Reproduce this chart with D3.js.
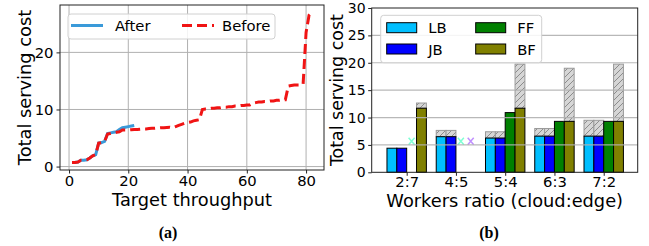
<!DOCTYPE html>
<html>
<head>
<meta charset="utf-8">
<script src="https://cdn.jsdelivr.net/npm/d3@7"></script>
<style>
  body { margin: 0; background: #fff; }
  text { font-family: "DejaVu Sans", sans-serif; fill: #000; }
</style>
</head>
<body>
<svg width="649" height="246"></svg>
<script>
const svg = d3.select("svg");

// (a) cost vs target throughput
const afterX = d3.range(1, 23);
const afterY = [0.7, 0.7, 0.8, 1.1, 1.1, 1.2, 1.5, 1.9, 2.1, 4.1, 4.2, 4.4,
  5.8, 5.9, 6.0, 6.1, 6.5, 6.8, 6.9, 7.0, 7.1, 7.2];
const beforeX = d3.range(1, 83);
const beforeY = [0.7, 0.7, 0.8, 1.1, 1.1, 1.2, 1.5, 1.9, 2.1, 4.1, 4.2, 4.4,
  5.7, 5.8, 5.9, 6.0, 6.1, 6.4, 6.4, 6.4, 6.45, 6.5, 6.5, 6.55, 6.6, 6.6,
  6.65, 6.7, 6.7, 6.75, 6.8, 6.8, 6.85, 6.9, 6.8, 7.0, 7.2, 7.4, 7.6, 7.7,
  7.8, 8.0, 8.1, 8.2, 10.0, 10.1, 10.1, 10.2, 10.2, 10.3, 10.3, 10.4, 10.4,
  10.5, 10.5, 10.6, 10.6, 10.7, 10.7, 10.8, 10.8, 11.1, 11.2, 11.3, 11.3,
  11.4, 11.4, 11.5, 11.5, 11.6, 11.6, 11.7, 11.7, 14.1, 14.2, 14.3, 14.3,
  14.3, 14.4, 23.5, 26.5, 27.0];
const xTicksA = [0, 20, 40, 60, 80];
const yTicksA = [0, 10, 20];

// (b) cost per workers ratio
const ratios = ["2:7", "4:5", "5:4", "6:3", "7:2"];
const lbCost = [4.4, 6.5, 6.25, 6.6, 6.6];
const lbTotal = [null, 7.65, 7.4, 8.0, 9.5];
const jbCost = [4.4, 6.5, 6.25, 6.6, 6.6];
const jbTotal = [null, 7.65, 7.4, 8.0, 9.5];
const ffCost = [null, null, 10.9, 9.3, 9.3];
const ffTotal = [null, null, null, null, null];
const bfCost = [11.7, null, 11.7, 9.3, 9.3];
const bfTotal = [12.65, null, 19.75, 19.0, 19.75];
const missY = 5.65;
const yTicksB = [0, 5, 10, 15, 20, 25, 30];

const defs = svg.append("defs");
const pat = defs.append("pattern")
  .attr("id", "hatch")
  .attr("patternUnits", "userSpaceOnUse")
  .attr("width", 6).attr("height", 6);
pat.append("rect").attr("width", 6).attr("height", 6).attr("fill", "#d6d6d6");
pat.append("path").attr("d", "M-1,7 L7,-1 M-4,4 L4,-4 M2,10 L10,2")
  .attr("stroke", "#8c8c8c").attr("stroke-width", 1);

const tickFont = 14.8;
const labelFont = 17.8;

function styleTicks(g, size) {
  g.select(".domain").remove();
  g.selectAll("text").style("font-size", (size || tickFont) + "px").attr("font-family", "DejaVu Sans");
  g.selectAll("line").attr("stroke", "#222");
}

// ---------- chart (a) ----------
const A = { l: 60, r: 324, t: 5, b: 170 };
const xA = d3.scaleLinear().domain([-3.05, 86.05]).range([A.l, A.r]);
const yA = d3.scaleLinear().domain([-0.6, 28.3]).range([A.b, A.t]);

const gA = svg.append("g");
gA.append("g").selectAll("line").data(xTicksA).enter().append("line")
  .attr("x1", d => xA(d)).attr("x2", d => xA(d))
  .attr("y1", A.t).attr("y2", A.b)
  .attr("stroke", "#b0b0b0").attr("stroke-width", 1);
gA.append("g").selectAll("line").data(yTicksA).enter().append("line")
  .attr("x1", A.l).attr("x2", A.r)
  .attr("y1", d => yA(d)).attr("y2", d => yA(d))
  .attr("stroke", "#b0b0b0").attr("stroke-width", 1);

const lineA = d3.line().x(d => xA(d[0])).y(d => yA(d[1]));
gA.append("path")
  .attr("d", lineA(afterX.map((x, i) => [x, afterY[i]])))
  .attr("fill", "none").attr("stroke", "#3a9ad9").attr("stroke-width", 3);
gA.append("path")
  .attr("d", lineA(beforeX.map((x, i) => [x, beforeY[i]])))
  .attr("fill", "none").attr("stroke", "#f01414").attr("stroke-width", 3)
  .attr("stroke-dasharray", "10,5");

gA.append("g").attr("transform", `translate(0,${A.b})`)
  .call(d3.axisBottom(xA).tickValues(xTicksA).tickSize(3.5).tickPadding(1.5))
  .call(styleTicks);
gA.append("g").attr("transform", `translate(${A.l},0)`)
  .call(d3.axisLeft(yA).tickValues(yTicksA).tickSize(3.5).tickPadding(3))
  .call(styleTicks);
gA.append("rect").attr("x", A.l).attr("y", A.t)
  .attr("width", A.r - A.l).attr("height", A.b - A.t)
  .attr("fill", "none").attr("stroke", "#222").attr("stroke-width", 1);

// legend (a)
const legA = gA.append("g");
legA.append("rect").attr("x", 68).attr("y", 14).attr("width", 207).attr("height", 25)
  .attr("rx", 3).attr("fill", "#fff").attr("fill-opacity", 0.85)
  .attr("stroke", "#d0d0d0");
legA.append("line").attr("x1", 71).attr("x2", 103).attr("y1", 25.5).attr("y2", 25.5)
  .attr("stroke", "#3a9ad9").attr("stroke-width", 3);
legA.append("text").attr("x", 115).attr("y", 31).style("font-size", tickFont + "px").text("After");
legA.append("line").attr("x1", 182).attr("x2", 214).attr("y1", 25.5).attr("y2", 25.5)
  .attr("stroke", "#f01414").attr("stroke-width", 3).attr("stroke-dasharray", "10,5");
legA.append("text").attr("x", 222).attr("y", 31).style("font-size", tickFont + "px").text("Before");

gA.append("text").attr("text-anchor", "middle")
  .attr("transform", `translate(31,${(A.t + A.b) / 2}) rotate(-90)`)
  .style("font-size", labelFont + "px").text("Total serving cost");
gA.append("text").attr("text-anchor", "middle")
  .attr("x", (A.l + A.r) / 2).attr("y", 205.5)
  .style("font-size", labelFont + "px").text("Target throughput");
gA.append("text").attr("text-anchor", "middle").attr("x", 168).attr("y", 238)
  .style("font-family", "Liberation Serif, serif").style("font-weight", "bold")
  .style("font-size", "16px").text("(a)");

// ---------- chart (b) ----------
const B = { l: 371.7, r: 637.7, t: 8, b: 172.3 };
const xB = d3.scaleLinear().domain([-0.71, 4.69]).range([B.l, B.r]);
const yB = d3.scaleLinear().domain([0, 30]).range([B.b, B.t]);
const barW = 0.2;

const series = [
  { name: "LB", cost: lbCost, total: lbTotal, color: "#00bfff", off: -0.3 },
  { name: "JB", cost: jbCost, total: jbTotal, color: "#0000ff", off: -0.1 },
  { name: "FF", cost: ffCost, total: ffTotal, color: "#008000", off: 0.1 },
  { name: "BF", cost: bfCost, total: bfTotal, color: "#808000", off: 0.3 }
];

const gB = svg.append("g");
const bw = xB(barW) - xB(0);

series.forEach(s => {
  const idx = d3.range(ratios.length);
  gB.append("g").selectAll("rect")
    .data(idx.filter(i => s.total[i] != null)).enter().append("rect")
    .attr("x", i => xB(i + s.off) - bw / 2).attr("width", bw)
    .attr("y", i => yB(s.total[i])).attr("height", i => yB(s.cost[i]) - yB(s.total[i]))
    .attr("fill", "url(#hatch)").attr("stroke", "#9a9a9a").attr("stroke-width", 1);
  gB.append("g").selectAll("rect")
    .data(idx.filter(i => s.cost[i] != null)).enter().append("rect")
    .attr("x", i => xB(i + s.off) - bw / 2).attr("width", bw)
    .attr("y", i => yB(s.cost[i])).attr("height", i => yB(0) - yB(s.cost[i]))
    .attr("fill", s.color).attr("stroke", "#000").attr("stroke-width", 1);
});

// missing runs
const missing = [
  { i: 0, off: 0.1, color: "#7fffd4" },
  { i: 1, off: 0.1, color: "#7fffd4" },
  { i: 1, off: 0.3, color: "#c090ff" }
];
gB.append("g").selectAll("path").data(missing).enter().append("path")
  .attr("d", d => {
    const cx = xB(d.i + d.off), cy = yB(missY);
    return `M${cx - 3},${cy - 3.5}L${cx + 3},${cy + 3.5}M${cx - 3},${cy + 3.5}L${cx + 3},${cy - 3.5}`;
  })
  .attr("stroke", d => d.color).attr("stroke-width", 1.5).attr("fill", "none");

gB.append("g").selectAll("line").data(yTicksB.slice(1, -1)).enter().append("line")
  .attr("x1", B.l).attr("x2", B.r)
  .attr("y1", d => yB(d)).attr("y2", d => yB(d))
  .attr("stroke", "#b0b0b0").attr("stroke-width", 1.2).attr("stroke-opacity", 0.9);

gB.append("g").attr("transform", `translate(0,${B.b})`)
  .call(d3.axisBottom(xB).tickValues(d3.range(ratios.length))
    .tickFormat(i => ratios[i]).tickSize(3.5).tickPadding(1))
  .call(styleTicks);
gB.append("g").attr("transform", `translate(${B.l},0)`)
  .call(d3.axisLeft(yB).tickValues(yTicksB).tickSize(3.5).tickPadding(2.5))
  .call(g => styleTicks(g, 14));
gB.append("rect").attr("x", B.l).attr("y", B.t)
  .attr("width", B.r - B.l).attr("height", B.b - B.t)
  .attr("fill", "none").attr("stroke", "#222").attr("stroke-width", 1);

// legend (b)
const legB = gB.append("g");
legB.append("rect").attr("x", 380.7).attr("y", 15.3).attr("width", 161).attr("height", 47.4)
  .attr("rx", 3).attr("fill", "#fff").attr("fill-opacity", 0.85).attr("stroke", "#d0d0d0");
series.forEach((s, k) => {
  const col = Math.floor(k / 2), row = k % 2;
  const px = col === 0 ? 386.7 : 475.7;
  const py = row === 0 ? 22.7 : 44;
  legB.append("rect").attr("x", px).attr("y", py).attr("width", 30).attr("height", 10)
    .attr("fill", s.color).attr("stroke", "#000").attr("stroke-width", 1);
  legB.append("text").attr("x", px + 41.5).attr("y", py + 10.5)
    .style("font-size", tickFont + "px").text(s.name);
});

gB.append("text").attr("text-anchor", "middle")
  .attr("transform", `translate(342.5,${(B.t + B.b) / 2}) rotate(-90)`)
  .style("font-size", "17.4px").text("Total serving cost");
gB.append("text").attr("text-anchor", "middle")
  .attr("x", (B.l + B.r) / 2).attr("y", 206.5)
  .style("font-size", labelFont + "px").text("Workers ratio (cloud:edge)");
gB.append("text").attr("text-anchor", "middle").attr("x", 489).attr("y", 238)
  .style("font-family", "Liberation Serif, serif").style("font-weight", "bold")
  .style("font-size", "16px").text("(b)");
</script>
</body>
</html>
